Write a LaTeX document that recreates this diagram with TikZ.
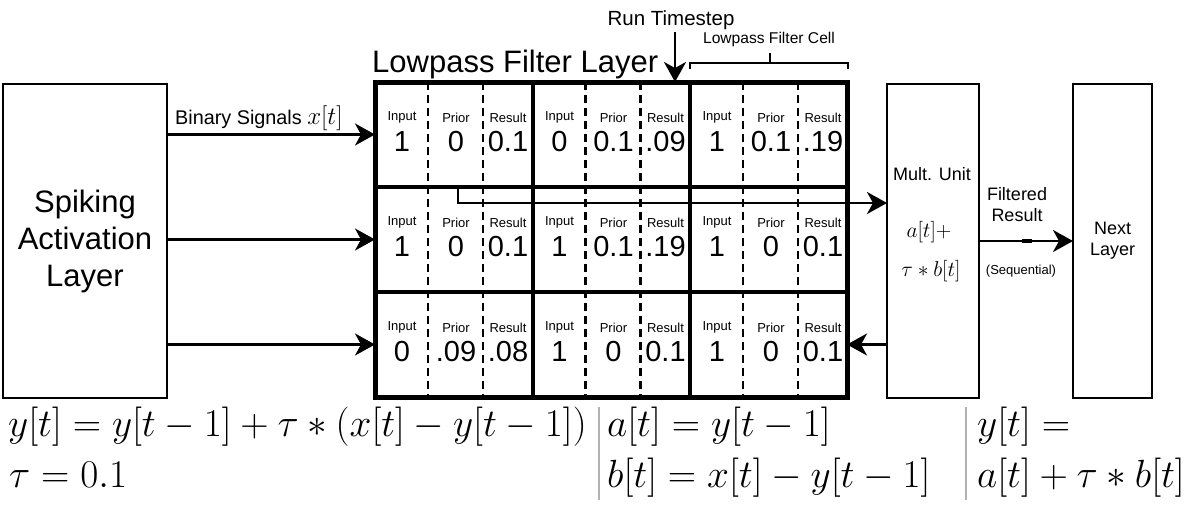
\RequirePackage{fix-cm}
\documentclass[tikz,border=0pt]{standalone}
\usepackage[no-math]{fontspec}
\setmainfont{Liberation Sans}
\usetikzlibrary{positioning, arrows.meta}

\tikzset{
  bigtxt/.style={font=\fontsize{31}{37}\selectfont},
  midtxt/.style={font=\fontsize{20.5}{24}\selectfont},
  boxtxt/.style={font=\fontsize{18}{21}\selectfont},
  smalltxt/.style={font=\fontsize{15.6}{18}\selectfont},
  tinytxt/.style={font=\fontsize{13}{15}\selectfont},
  numtxt/.style={font=\fontsize{29}{34}\selectfont},
  eqtxt/.style={font=\fontsize{39.3}{46}\selectfont},
  boxmath/.style={font=\fontsize{21.5}{26}\selectfont},
  layerbox/.style={draw, line width=2.4pt, outer sep=0pt, align=center, minimum height=314pt},
  rowbox/.style={draw, line width=4pt, outer sep=0pt, minimum width=472pt, minimum height=105pt},
  dashln/.style={line width=2.4pt, dash pattern=on 8pt off 5pt},
  arr/.style={-{Stealth[length=20pt, width=22pt, inset=6pt]}, line width=2.4pt},
  bar/.style={line width=2pt, gray!60}
}

\begin{document}
\begin{tikzpicture}[x=1pt, y=-1pt, inner sep=0pt]
  \useasboundingbox (0,0) rectangle (1199,509);

  % Outer layers
  \node[layerbox, bigtxt, minimum width=164pt] (spiking) at (85,241) {Spiking\\Activation\\Layer};
  \node[layerbox, minimum width=92pt] (mult) at (933,241) {};
  \node[layerbox, boxtxt, minimum width=79pt] (next) at (1112.5,241) {Next\\Layer};

  % Dashed column lines inside each cell
  \foreach \xc in {375,532.5,690} {
    \draw[dashln] (\xc+53,82) -- (\xc+53,397);
    \draw[dashln] (\xc+108,82) -- (\xc+108,397);
  }

  % Grid rows
  \foreach \r/\yc in {1/134.5, 2/239.5, 3/344.5}
    \node[rowbox] (row\r) at (611,\yc) {};
  \foreach \xs in {532.5,690}
    \draw[line width=4pt] (\xs,82) -- (\xs,397);
  \draw[line width=5pt] (row1.north west) rectangle (row3.south east);

  % Cell contents: row/cell/input/prior/result
  \foreach \r/\c/\vi/\vp/\vr in {0/0/1/0/0.1, 0/1/0/0.1/.09, 0/2/1/0.1/.19,
                                 1/0/1/0/0.1, 1/1/1/0.1/.19, 1/2/1/0/0.1,
                                 2/0/0/.09/.08, 2/1/1/0/0.1, 2/2/1/0/0.1} {
    \node[tinytxt, anchor=base] (in-\r-\c) at ({375+\c*157.5+27},{82+\r*105+38}) {Input};
    \node[tinytxt, anchor=base] (pr-\r-\c) at ({375+\c*157.5+81},{82+\r*105+40}) {Prior};
    \node[tinytxt, anchor=base] (rs-\r-\c) at ({375+\c*157.5+133},{82+\r*105+40}) {Result};
    \node[numtxt, anchor=base] (vin-\r-\c) at ({375+\c*157.5+27},{82+\r*105+69}) {\vi};
    \node[numtxt, anchor=base] (vpr-\r-\c) at ({375+\c*157.5+81},{82+\r*105+69}) {\vp};
    \node[numtxt, anchor=base] (vrs-\r-\c) at ({375+\c*157.5+133},{82+\r*105+69}) {\vr};
  }

  % Labels above the grid
  \node[midtxt, anchor=base] (runlbl) at (671,25) {Run Timestep};
  \node[bigtxt, anchor=base west] (layerlbl) at (372,72) {Lowpass Filter Layer};
  \node[smalltxt, anchor=base] (celllbl) at (769,43) {Lowpass Filter Cell};
  \draw[line width=2pt] (690,69) |- (770,63) -| (848,69);
  \draw[line width=2pt] (770,63) -- (770,53);
  \coordinate (runtop) at (675,32);
  \draw[arr] (runtop) -- (runtop |- row1.north);

  % Binary signals into the grid
  \node[font=\fontsize{19.8}{24}\selectfont, anchor=base west] (binlbl) at (175,124)
    {Binary Signals \fontsize{25}{30}\selectfont$x[t]$};
  \foreach \r in {1,2,3}
    \draw[arr] (spiking.east |- row\r.west) -- (row\r.west);

  % Mult. unit
  \node[boxtxt, anchor=base] (multlbl) at (932,180) {Mult. Unit};
  \node[boxmath, anchor=base] (multa) at (929,237) {$a[t]+$};
  \node[boxmath, anchor=base] (multb) at (931,276) {$\tau*b[t]$};
  \coordinate (tap) at (458,187);
  \draw[arr] (tap) |- ([yshift=38pt]mult.west);
  \draw[arr] (mult.west |- row3.east) -- (row3.east);

  % Filtered result
  \node[boxtxt, anchor=base] (filtlbl) at (1017,200) {Filtered};
  \node[boxtxt, anchor=base] (filtlbl2) at (1017,221) {Result};
  \node[tinytxt, anchor=base] (seqlbl) at (1021,274) {(Sequential)};
  \draw[arr] (mult.east) -- (next.west);
  \draw[line width=4pt] ([xshift=43pt]mult.east) -- ++(10pt,0);

  % Equations
  \node[eqtxt, anchor=base west] (eqy) at (8,436) {$y[t]=y[t-1]+\tau*(x[t]-y[t-1])$};
  \node[eqtxt, anchor=base west] (eqtau) at (9,487) {$\tau=0.1$};
  \node[eqtxt, anchor=base west] (eqa) at (607,436) {$a[t]=y[t-1]$};
  \node[eqtxt, anchor=base west] (eqb) at (607,487) {$b[t]=x[t]-y[t-1]$};
  \node[eqtxt, anchor=base west] (eqsum) at (977,436) {$y[t]=$};
  \node[eqtxt, anchor=base west] (eqsum2) at (977,487) {$a[t]+\tau*b[t]$};
  \draw[bar] (599,407) -- (599,500);
  \draw[bar] (966,407) -- (966,500);
\end{tikzpicture}
\end{document}
